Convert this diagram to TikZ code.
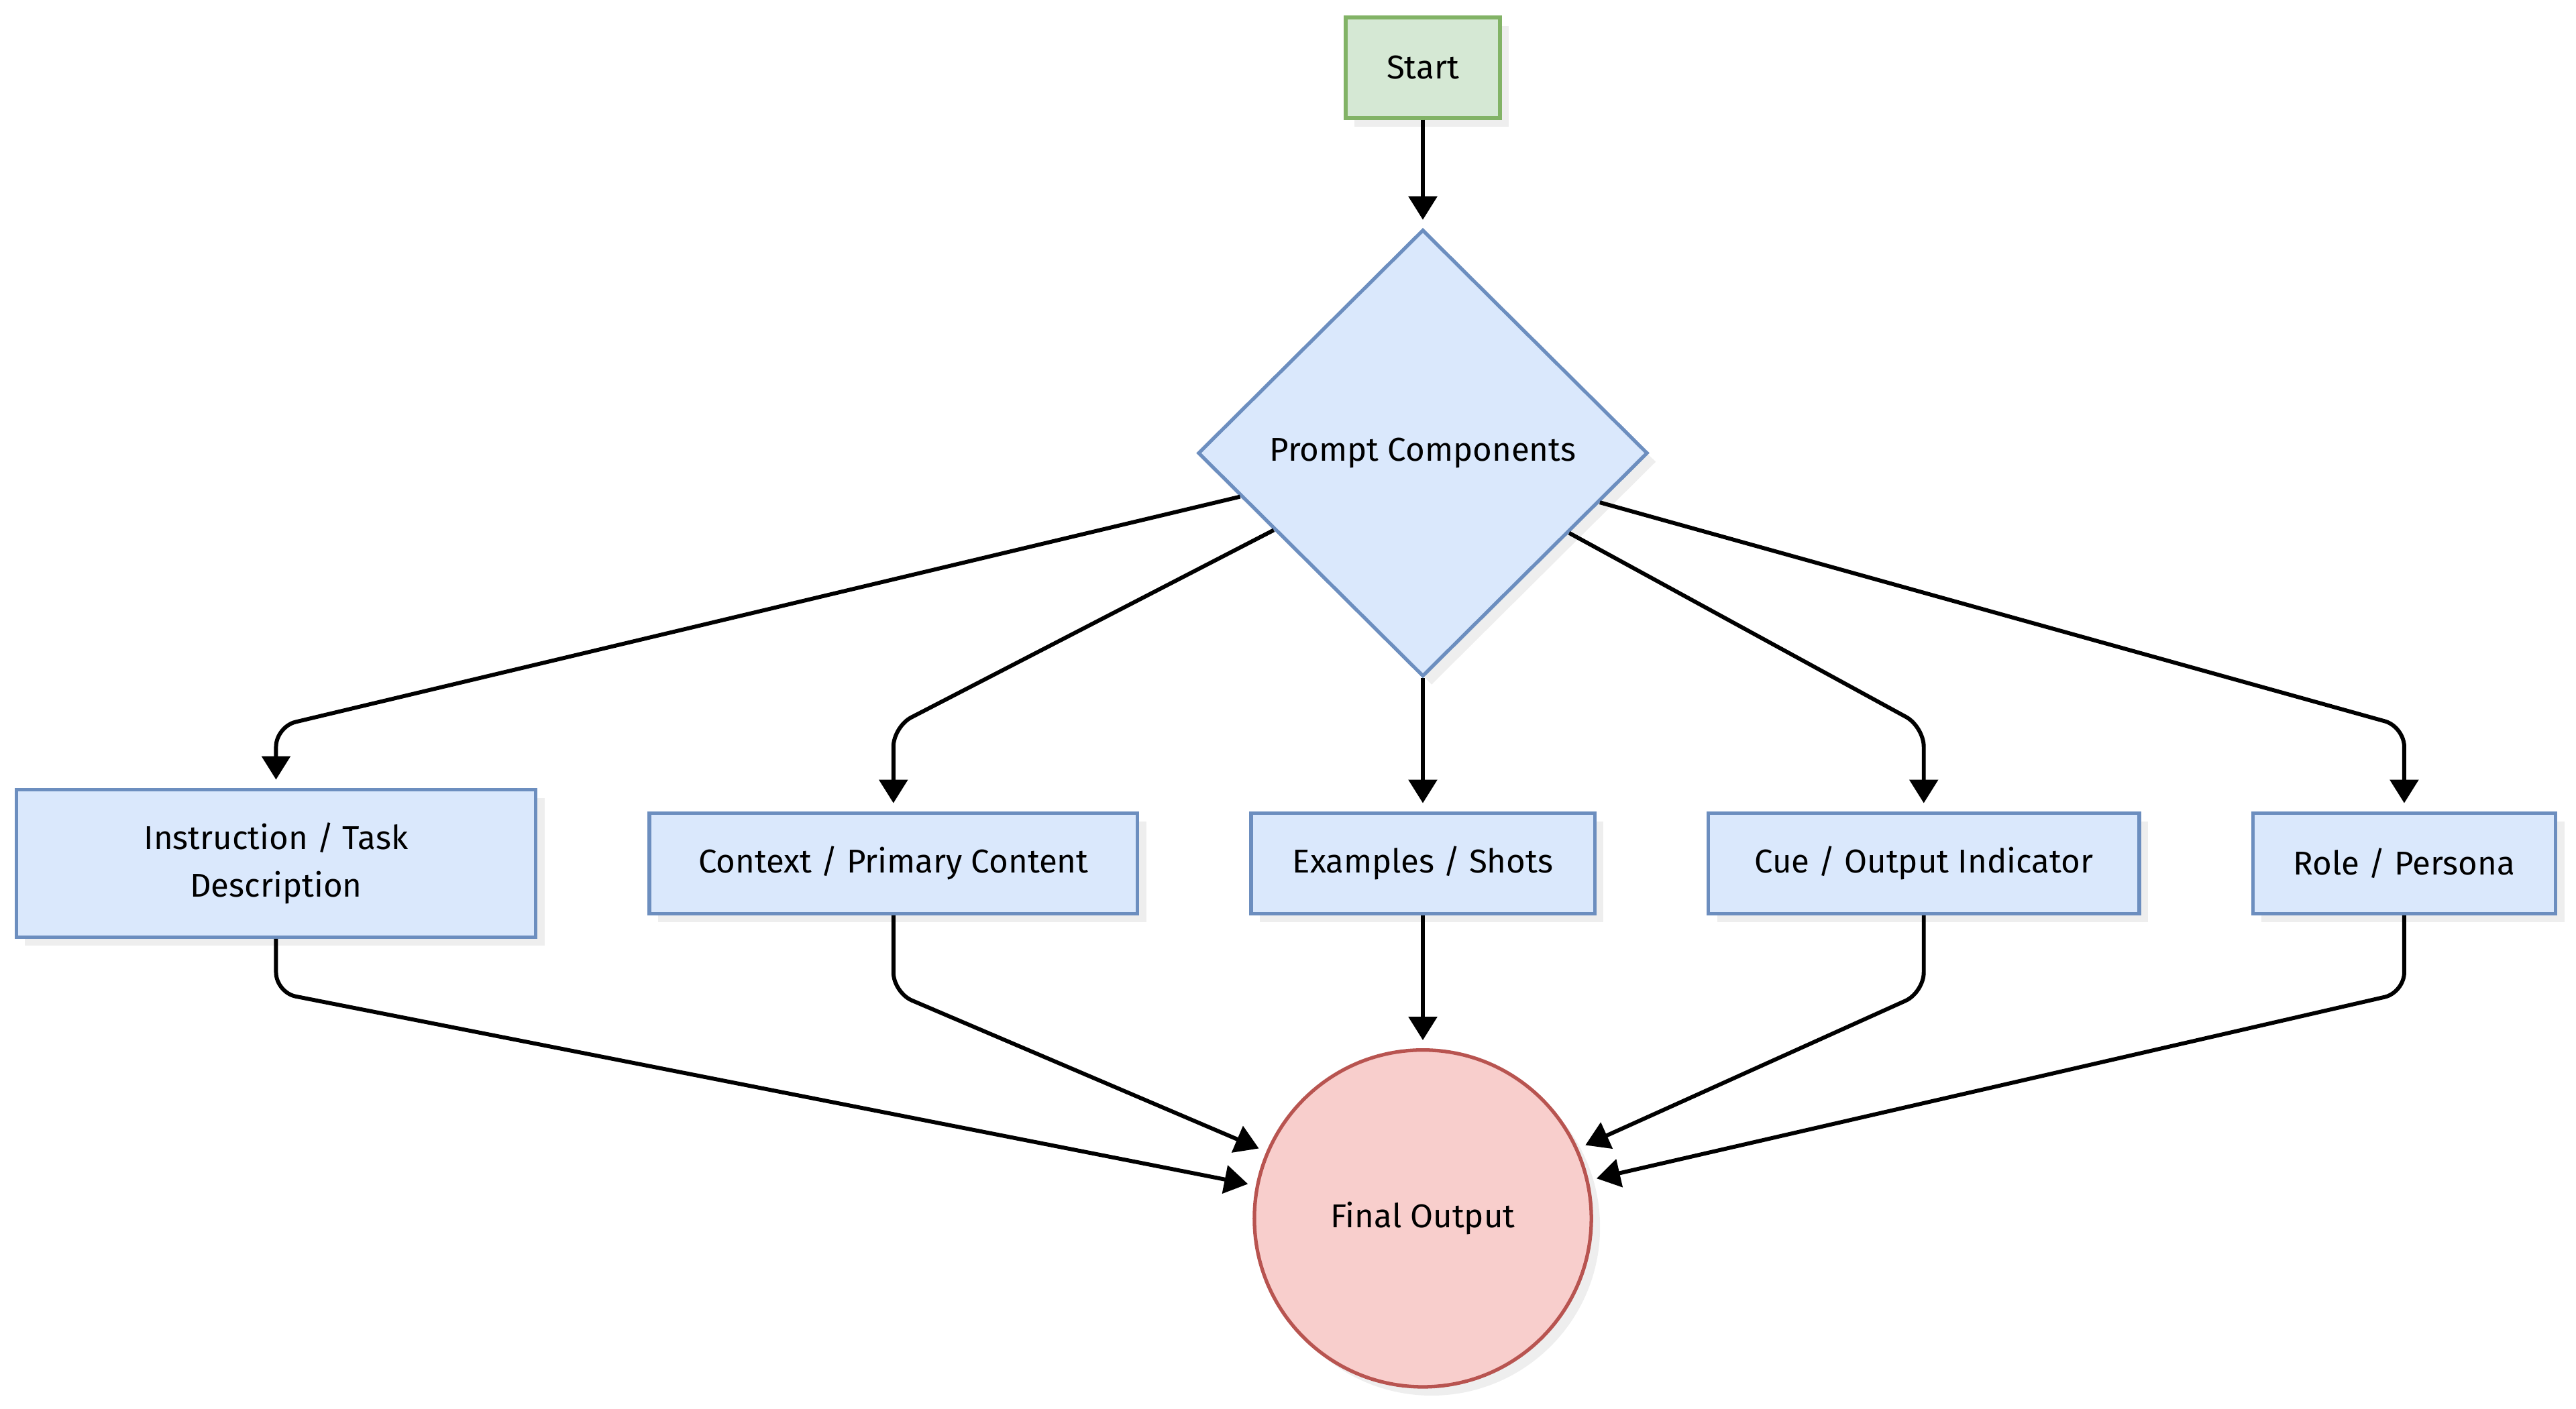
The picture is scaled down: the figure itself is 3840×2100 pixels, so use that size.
\documentclass[tikz,border=0pt]{standalone}
\usepackage{fontspec}
\setmainfont{Fira Sans}
\usetikzlibrary{arrows.meta,positioning,shapes.geometric,shadows}

\definecolor{greenfill}{HTML}{D5E8D4}
\definecolor{greendraw}{HTML}{82B366}
\definecolor{bluefill}{HTML}{DAE8FC}
\definecolor{bluedraw}{HTML}{6C8EBF}
\definecolor{redfill}{HTML}{F8CECC}
\definecolor{reddraw}{HTML}{B85450}
\definecolor{shadowgray}{HTML}{EEEEEE}

\begin{document}
\begin{tikzpicture}[x=0.01cm,y=-0.01cm,
  >={Triangle[length=3.5mm,width=4.2mm]},shorten >=1.2mm,
  flow/.style={->,line width=1.7pt,rounded corners=0.3cm},
  base node/.style={draw,line width=1.5pt,inner sep=0pt,align=center,
  font=\fontsize{14}{20}\selectfont,
  drop shadow={shadow xshift=1.3mm,shadow yshift=-1.3mm,fill=shadowgray,opacity=1}},
  start node/.style={base node,rectangle,fill=greenfill,draw=greendraw,
  minimum width=2.3cm,minimum height=1.5cm},
  decision node/.style={base node,diamond,fill=bluefill,draw=bluedraw,
  minimum width=6.7cm,minimum height=6.66cm},
  main node/.style={base node,rectangle,fill=bluefill,draw=bluedraw,
  minimum height=1.5cm},
  end node/.style={base node,circle,fill=redfill,draw=reddraw,
  minimum size=5.02cm}]

  \useasboundingbox (0,0) rectangle (3840,2100);

  \node[start node] (S) at (2121,101) {Start};
  \node[decision node] (PC) [below=1.61cm of S] {Prompt Components};
  \node[main node,minimum width=5.12cm] (EX) [below=1.98cm of PC] {Examples / Shots};
  \node[main node,minimum width=7.27cm] (CC) [left=1.64cm of EX] {Context / Primary Content};
  \node[main node,minimum width=7.74cm,minimum height=2.2cm] (IT) [left=1.64cm of CC] {Instruction / Task\\Description};
  \node[main node,minimum width=6.42cm] (CO) [right=1.64cm of EX] {Cue / Output Indicator};
  \node[main node,minimum width=4.51cm] (RP) [right=1.64cm of CO] {Role / Persona};
  \node[end node] (FO) [below=1.98cm of EX] {Final Output};

  %Bend heights above and below the row of components
  \coordinate (top) at ([yshift=1.26cm]EX.north);
  \coordinate (bot) at ([yshift=-1.15cm]EX.south);

  \draw[flow] (S) -- (PC);

  %Shows the prompt split into its components
  \draw[flow] (PC) -- (IT.north |- top) -- (IT.north);
  \draw[flow] (PC) -- (CC.north |- top) -- (CC.north);
  \draw[flow] (PC) -- (EX);
  \draw[flow] (PC) -- (CO.north |- top) -- (CO.north);
  \draw[flow] (PC) -- (RP.north |- top) -- (RP.north);

  %Shows every component feeding the final output
  \draw[flow] (IT) -- (IT.south |- bot) -- (FO);
  \draw[flow] (CC) -- (CC.south |- bot) -- (FO);
  \draw[flow] (EX) -- (FO);
  \draw[flow] (CO) -- (CO.south |- bot) -- (FO);
  \draw[flow] (RP) -- (RP.south |- bot) -- (FO);

\end{tikzpicture}
\end{document}
